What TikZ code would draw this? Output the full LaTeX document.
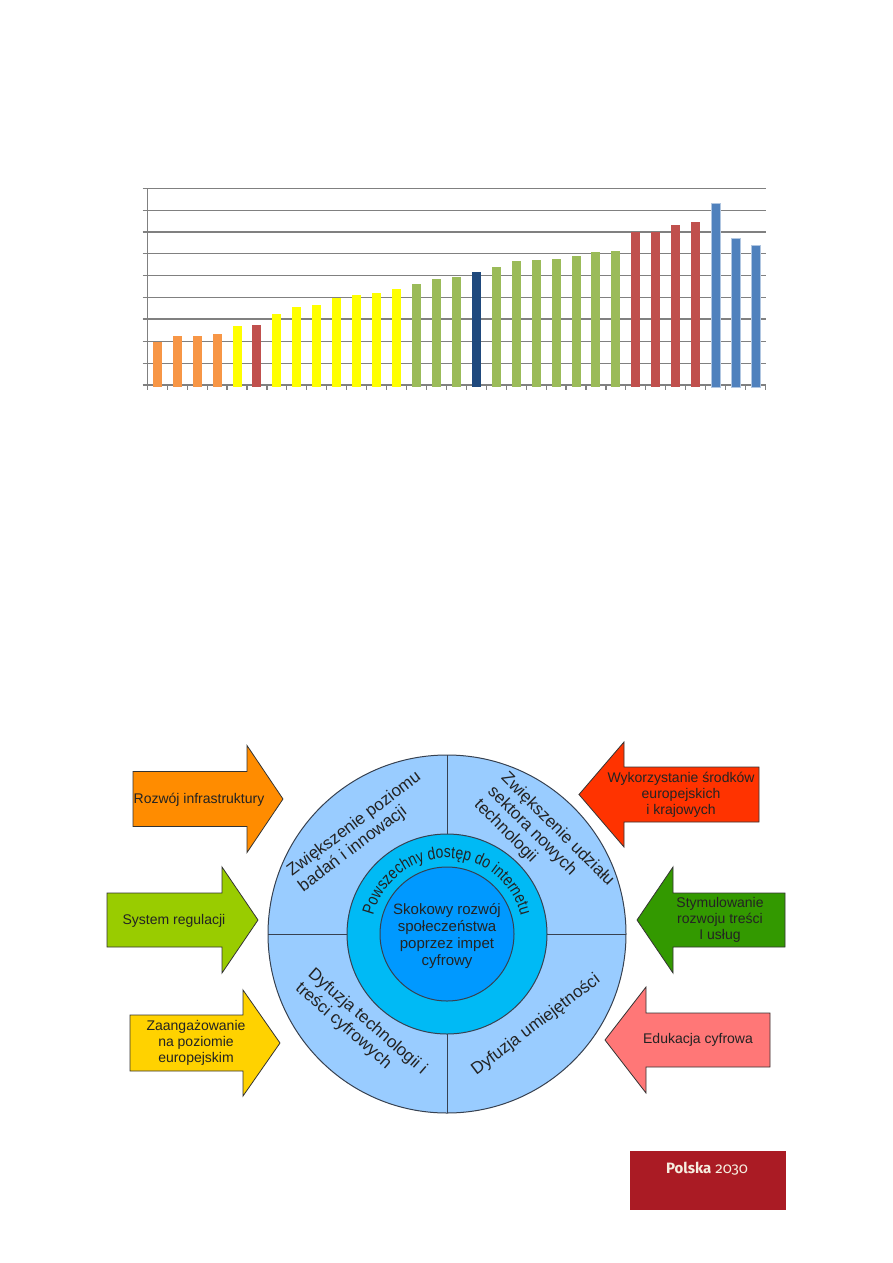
\documentclass[tikz,border=0pt]{standalone}
\usepackage{fontspec}
\setmainfont{Liberation Sans}
\newfontfamily\ringfamily[FakeStretch=0.82]{Liberation Sans}
\newfontfamily\polskafamily[Numbers=OldStyle]{Fira Sans}
\usepackage{tikz}
\usetikzlibrary{decorations.text}
\definecolor{gridgray}{RGB}{128,128,128}
\definecolor{cOrange}{RGB}{247,150,70}
\definecolor{cYellow}{RGB}{255,255,0}
\definecolor{cRed}{RGB}{192,80,77}
\definecolor{cGreen}{RGB}{155,187,89}
\definecolor{cNavy}{RGB}{31,73,125}
\definecolor{cBlue}{RGB}{79,129,189}
\definecolor{ringouter}{RGB}{153,204,255}
\definecolor{ringmid}{RGB}{0,186,245}
\definecolor{ringinner}{RGB}{0,153,255}
\definecolor{ringline}{RGB}{55,65,80}
\definecolor{textgray}{RGB}{35,35,35}
\definecolor{arroworange}{RGB}{255,140,0}
\definecolor{arrowlime}{RGB}{153,204,0}
\definecolor{arrowgold}{RGB}{255,210,0}
\definecolor{arrowred}{RGB}{255,51,0}
\definecolor{arrowgreen}{RGB}{51,153,0}
\definecolor{arrowsalmon}{RGB}{255,119,119}
\definecolor{polskared}{RGB}{170,27,36}
\definecolor{polskacream}{RGB}{246,238,224}
\tikzset{
  grid/.style={draw=gridgray, line width=1.2pt},
  orangebar/.style={fill=cOrange},
  yellowbar/.style={fill=cYellow},
  redbar/.style={fill=cRed},
  greenbar/.style={fill=cGreen},
  navybar/.style={fill=cNavy},
  bluebar/.style={fill=cBlue, draw=cBlue!45, line width=0.8pt},
  ringedge/.style={draw=ringline, line width=1pt},
  arrowbox/.style={draw=black!80, line width=0.8pt},
  arrowtext/.style={font=\fontsize{14}{16}\selectfont, align=center, text=textgray, inner sep=0pt},
  quadtext/.style={font=\fontsize{17}{19}\selectfont, align=left, text=textgray, inner sep=0pt},
  centertext/.style={font=\fontsize{15}{17}\selectfont, align=center, text=textgray, inner sep=0pt},
  polskatext/.style={font=\polskafamily\fontsize{15}{17}\selectfont, text=polskacream, inner sep=0pt}
}

\begin{document}
\begin{tikzpicture}[x=1pt, y=-1pt]
    \useasboundingbox (0,0) rectangle (893,1263);

    % Bar chart: grid and axes
    \foreach \k in {0,...,9}
        \draw[grid] (142.7,{385-21.86*\k}) -- (765.7,{385-21.86*\k});
    \draw[grid, line width=2pt] (142.7,{385-21.86*3}) -- (765.7,{385-21.86*3});
    \draw[grid] (147.3,188.3) -- (147.3,385);
    \foreach \k in {0,...,31}
        \draw[grid] ({147.3+19.94*\k},385) -- ({147.3+19.94*\k},390);

    % Bars
    \foreach \v/\c [count=\i] in {1.98/orangebar, 2.26/orangebar, 2.26/orangebar, 2.33/orangebar,
        2.71/yellowbar, 2.76/redbar, 3.27/yellowbar, 3.55/yellowbar, 3.64/yellowbar, 3.96/yellowbar,
        4.14/yellowbar, 4.19/yellowbar, 4.37/yellowbar, 4.64/greenbar, 4.87/greenbar, 4.96/greenbar,
        5.19/navybar, 5.42/greenbar, 5.65/greenbar, 5.74/greenbar, 5.78/greenbar, 5.88/greenbar,
        6.10/greenbar, 6.14/greenbar, 6.98/redbar, 6.98/redbar, 7.33/redbar, 7.47/redbar,
        8.31/bluebar, 6.71/bluebar, 6.40/bluebar}
        \path[\c] ({147.3+19.94*(\i-0.5)-4.5},387) rectangle ({147.3+19.94*(\i-0.5)+4.5},{385-21.86*\v});

    % Circle diagram
    \coordinate (C) at (447,934);
    \draw[ringedge, fill=ringouter] (C) circle[radius=179pt];
    \draw[ringedge] ([xshift=-179pt]C) -- ([xshift=179pt]C);
    \draw[ringedge] ([yshift=-179pt]C) -- ([yshift=179pt]C);
    \draw[ringedge, fill=ringmid] (C) circle[radius=100pt];
    \draw[ringedge, fill=ringinner] (C) circle[radius=67pt];

    \path[decorate, decoration={text along path, text align=center,
        text={|\ringfamily\fontsize{17}{19}\selectfont\color{textgray}|Powszechny dostęp do internetu}}]
        ([shift={(166:76pt)}]C) arc[start angle=166, end angle=14, radius=76pt];

    \node[centertext] (core) at (447,936) {Skokowy rozwój\\społeczeństwa\\poprzez impet\\cyfrowy};

    \node[quadtext, rotate=37] (research) at (360,832) {Zwiększenie poziomu\\badań i innowacji};
    \node[quadtext, rotate=-45] (sector) at (544,843) {Zwiększenie udziału\\sektora nowych\\technologii};
    \node[quadtext, rotate=-41] (content) at (361,1029) {Dyfuzja technologii i\\treści cyfrowych};
    \node[quadtext, rotate=37] (skills) at (536,1025) {Dyfuzja umiejętności};

    % Arrows on the left
    \draw[arrowbox, fill=arroworange] (133,771.5) -- (247,771.5) -- (247,745.5) -- (283,799)
        -- (247,852.5) -- (247,826.5) -- (133,826.5) -- cycle;
    \node[arrowtext] (infra) at (199,800) {Rozwój infrastruktury};

    \draw[arrowbox, fill=arrowlime] (107,893) -- (222,893) -- (222,867) -- (258,920)
        -- (222,973) -- (222,947) -- (107,947) -- cycle;
    \node[arrowtext] (regul) at (174,921) {System regulacji};

    \draw[arrowbox, fill=arrowgold] (130,1015) -- (243,1015) -- (243,990) -- (280,1043)
        -- (243,1096) -- (243,1071) -- (130,1071) -- cycle;
    \node[arrowtext] (europe) at (196,1043) {Zaangażowanie\\na poziomie\\europejskim};

    % Arrows on the right
    \draw[arrowbox, fill=arrowred] (759,767) -- (624,767) -- (624,742) -- (579,794.5)
        -- (624,847) -- (624,822) -- (759,822) -- cycle;
    \node[arrowtext] (funds) at (681,795) {Wykorzystanie środków\\europejskich\\i krajowych};

    \draw[arrowbox, fill=arrowgreen] (785,893) -- (673,893) -- (673,867) -- (637,920)
        -- (673,973) -- (673,947) -- (785,947) -- cycle;
    \node[arrowtext] (stimul) at (720,920) {Stymulowanie\\rozwoju treści\\I usług};

    \draw[arrowbox, fill=arrowsalmon] (770,1013) -- (646,1013) -- (646,987) -- (605,1040)
        -- (646,1093) -- (646,1067) -- (770,1067) -- cycle;
    \node[arrowtext] (edu) at (698,1040) {Edukacja cyfrowa};

    % Footer box
    \fill[polskared] (630,1151) rectangle (786,1210);
    \node[polskatext] (brand) at (707,1169) {\textbf{Polska} 2030};
\end{tikzpicture}
\end{document}
